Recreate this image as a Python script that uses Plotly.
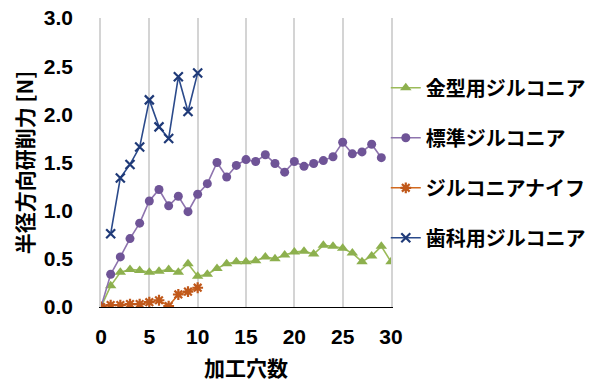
import plotly.graph_objects as go

# Radial grinding force versus number of machined holes
holes_mold = list(range(0, 31))
force_mold = [0, 0.22, 0.36, 0.39, 0.38, 0.36, 0.37, 0.39, 0.36, 0.45, 0.32,
              0.34, 0.40, 0.45, 0.47, 0.47, 0.48, 0.52, 0.50, 0.54, 0.57,
              0.58, 0.55, 0.64, 0.63, 0.61, 0.56, 0.47, 0.53, 0.63, 0.47]

holes_std = list(range(0, 30))
force_std = [0, 0.34, 0.52, 0.71, 0.87, 1.10, 1.22, 1.05, 1.15, 0.99, 1.17,
             1.28, 1.50, 1.35, 1.47, 1.53, 1.51, 1.58, 1.49, 1.40, 1.51,
             1.46, 1.49, 1.52, 1.56, 1.71, 1.59, 1.61, 1.69, 1.55]

holes_knife = list(range(0, 11))
force_knife = [0, 0.02, 0.02, 0.03, 0.03, 0.05, 0.07, 0.01, 0.13, 0.16, 0.20]

holes_dental = list(range(1, 11))
force_dental = [0.76, 1.34, 1.48, 1.66, 2.15, 1.87, 1.75, 2.39, 2.03, 2.43]

names = ["金型用ジルコニア", "標準ジルコニア", "ジルコニアナイフ", "歯科用ジルコニア"]
x_ticks = [0, 5, 10, 15, 20, 25, 30]
y_ticks = [0.0, 0.5, 1.0, 1.5, 2.0, 2.5, 3.0]

JP = "Noto Sans CJK JP, sans-serif"
NUM = "Liberation Sans, Arial, sans-serif"
GRID = "#D4D4D4"

fig = go.Figure()

styles = [
    (holes_mold, force_mold, "#9BBB59", "#8DB04E", dict(symbol="triangle-up", size=10)),
    (holes_std, force_std, "#8E74AE", "#6F5497", dict(symbol="circle", size=9)),
    (holes_knife, force_knife, "#D2691E", "#C0581A",
     dict(symbol="asterisk", size=9, line=dict(width=2.2, color="#C0581A"))),
    (holes_dental, force_dental, "#2B4A8B", "#1F3A78",
     dict(symbol="x-thin", size=9, line=dict(width=2.2, color="#1F3A78"))),
]

for i, (xs, ys, lc, mc, mk) in enumerate(styles):
    marker = dict(color=mc, **mk)
    fig.add_trace(go.Scatter(
        x=xs, y=ys, name=names[i], mode="lines+markers",
        line=dict(color=lc, width=1.6), marker=marker,
        legendgroup=f"g{i}",
    ))

fig.update_layout(
    width=591, height=382,
    margin=dict(l=101, r=200, t=18, b=75, autoexpand=False),
    paper_bgcolor="white", plot_bgcolor="white",
    showlegend=True,
    legend=dict(
        x=0.982, y=0.826, xanchor="left", yanchor="top",
        font=dict(family=JP, size=20, color="black", weight="bold"),
        tracegroupgap=21, bgcolor="rgba(0,0,0,0)",
    ),
    xaxis=dict(
        range=[0, 30], tickvals=x_ticks, ticks="",
        showgrid=True, gridcolor=GRID, gridwidth=1.5,
        zeroline=False, showline=True, linecolor="black", linewidth=1,
        tickfont=dict(family=NUM, size=21, color="black", weight="bold"),
        ticklabelstandoff=11,
        title=dict(text="加工穴数", font=dict(family=JP, size=21, color="black", weight="bold"),
                   standoff=18),
    ),
    yaxis=dict(
        range=[0, 3.0], tickvals=y_ticks, tickformat=".1f", ticks="",
        showgrid=False, zeroline=False,
        showline=True, linecolor=GRID, linewidth=1.5, mirror=True,
        tickfont=dict(family=NUM, size=21, color="black", weight="bold"),
        ticklabelstandoff=22,
        title=dict(text="半径方向研削力 [N]", font=dict(family=JP, size=21, color="black", weight="bold"),
                   standoff=4),
    ),
)

fig.write_html("out.html")
